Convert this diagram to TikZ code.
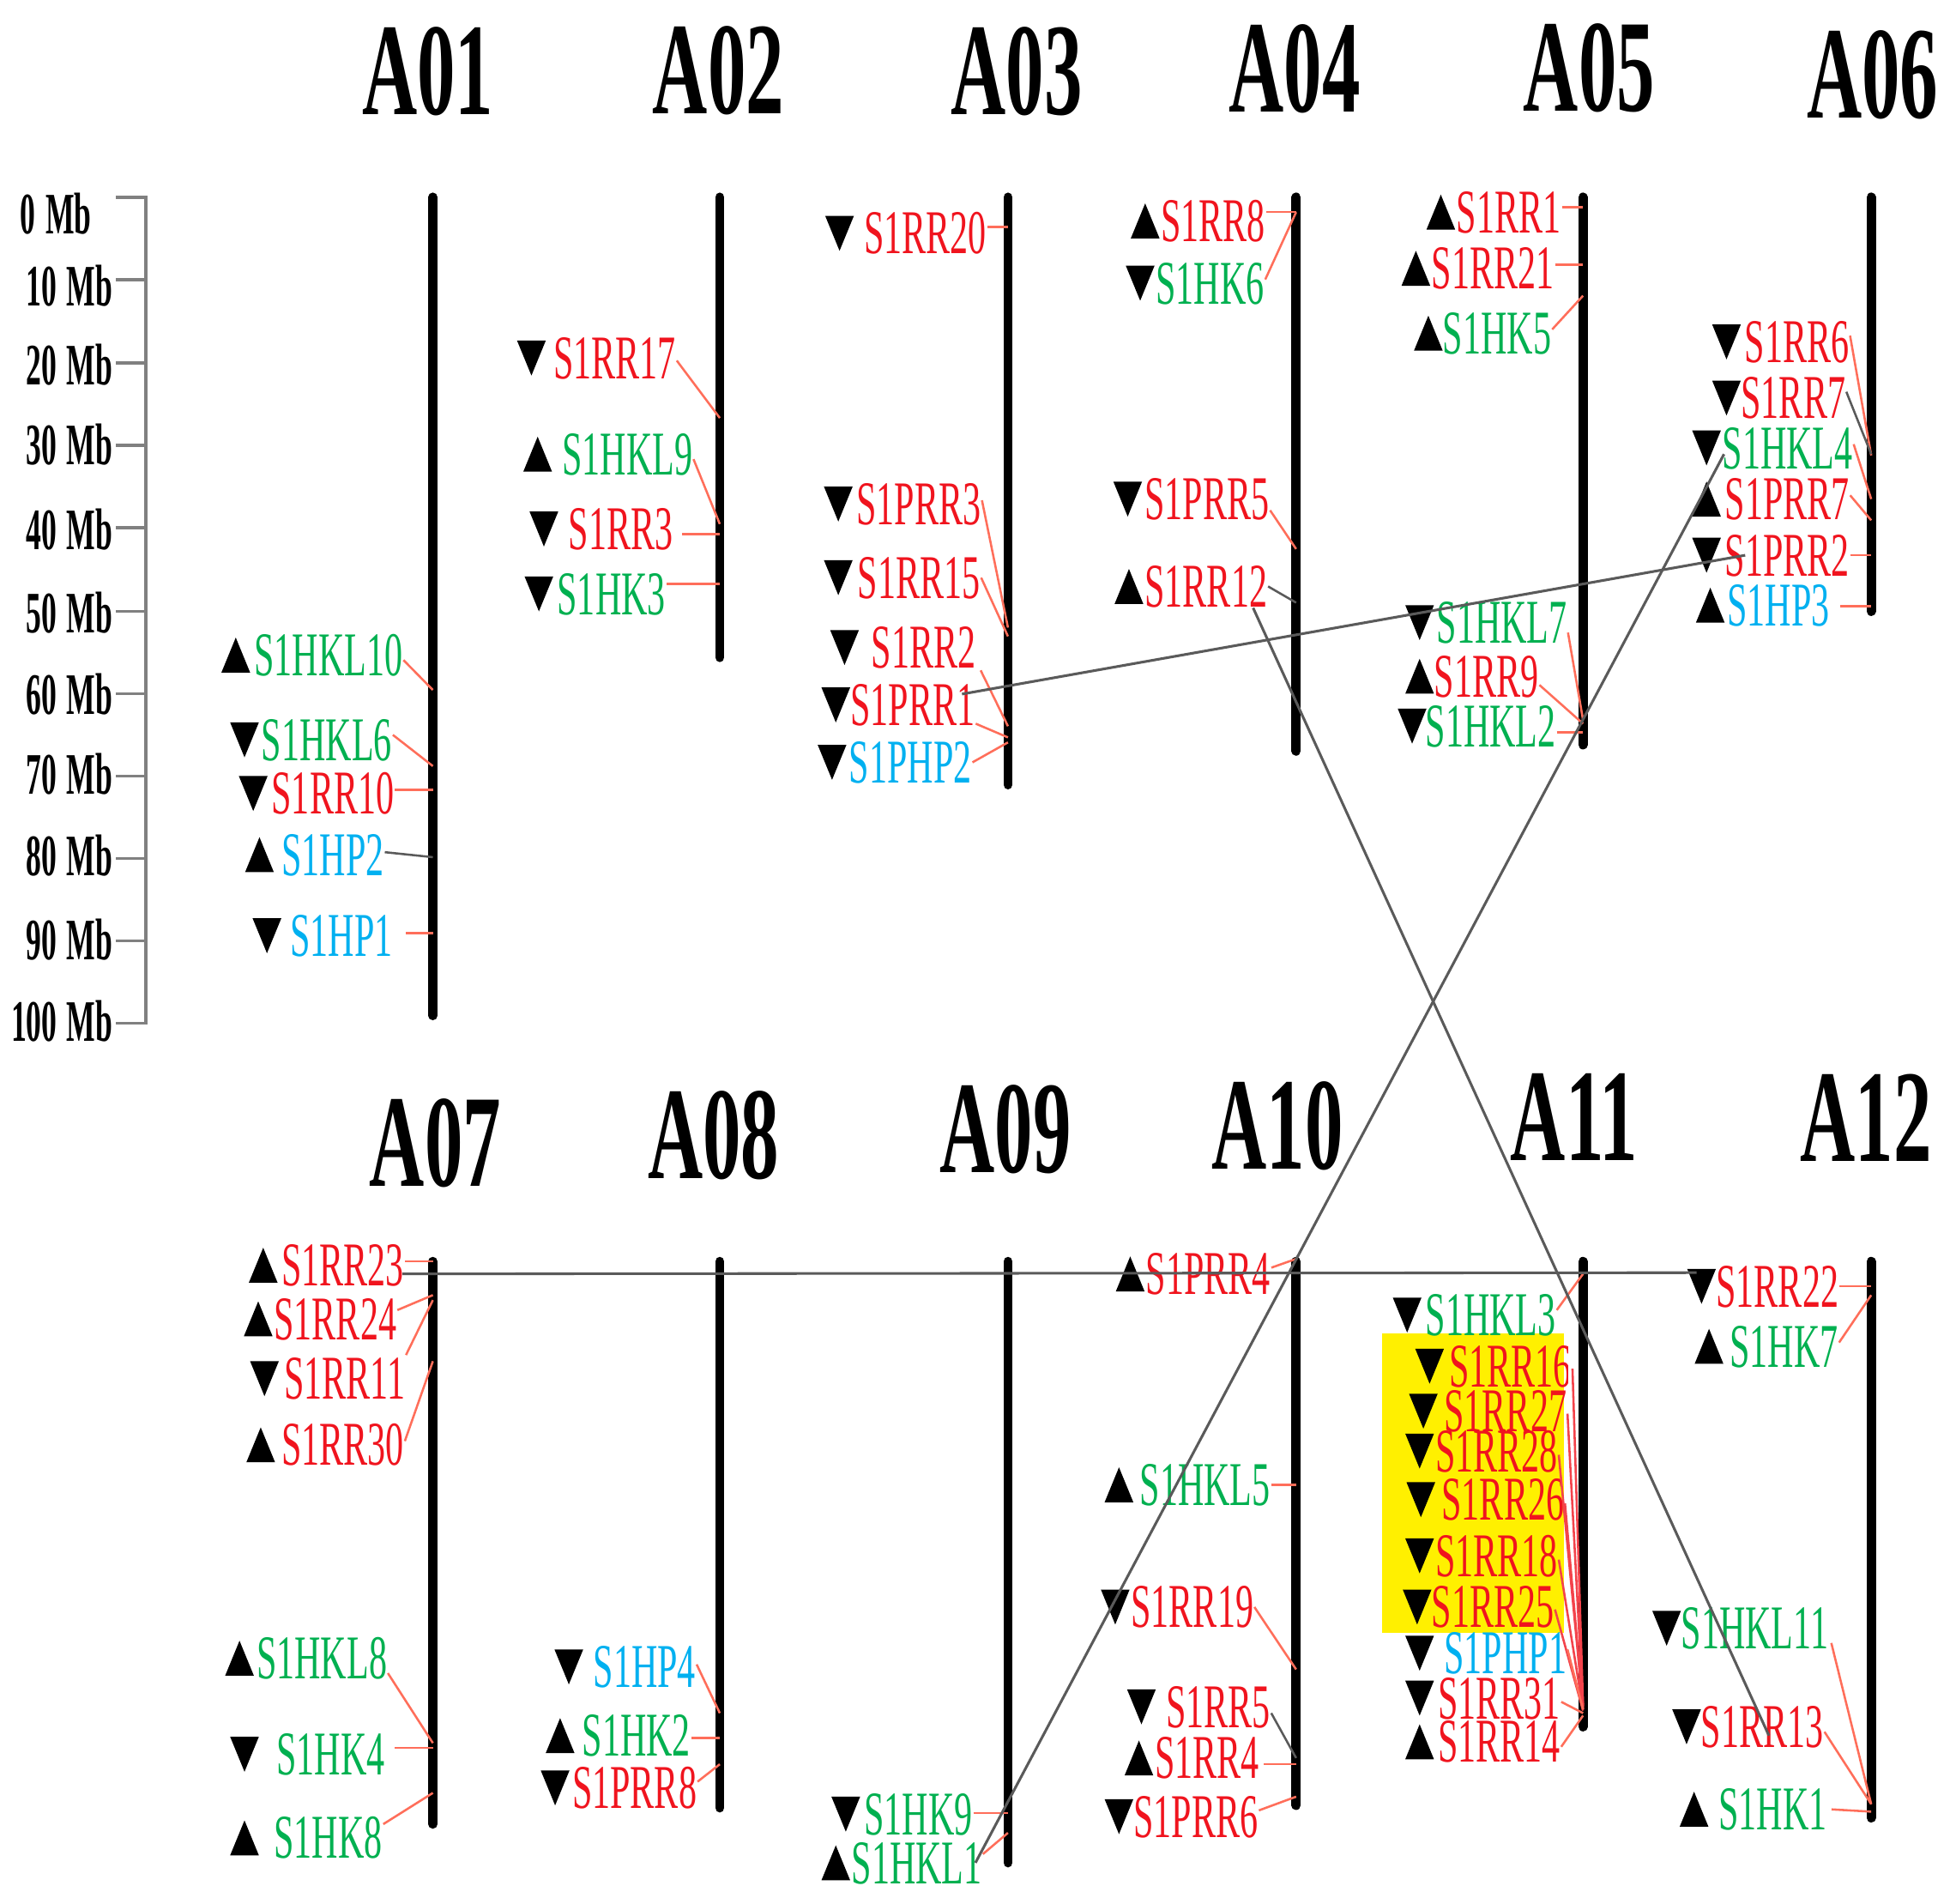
\documentclass[tikz,border=0pt]{standalone}
\usepackage{fontspec}
\setmainfont{Liberation Serif}
\newfontfamily\gf[FakeStretch=0.58]{Liberation Serif}
\newfontfamily\mbfont[FakeStretch=0.52]{Liberation Serif}
\definecolor{cr}{RGB}{240,20,30}
\definecolor{cg}{RGB}{0,176,80}
\definecolor{cb}{RGB}{0,176,240}
\definecolor{cs}{RGB}{255,110,90}
\definecolor{cgr}{RGB}{90,90,90}
\definecolor{yel}{RGB}{255,240,0}
\newcommand\tu[2]{\fill (#1,#2) +(-0.115,0.14) -- +(0.115,0.14) -- +(0,-0.14) -- cycle;}
\newcommand\td[2]{\fill (#1,#2) +(-0.115,-0.14) -- +(0.115,-0.14) -- +(0,0.14) -- cycle;}
\newcommand\gu[6]{\node[lbl,text=#5] (#1) at (#3,#4) {#6};\tu{#2}{#4}}
\newcommand\gd[6]{\node[lbl,text=#5] (#1) at (#3,#4) {#6};\td{#2}{#4}}
\newcommand\cn[5][cn]{\draw[#1] (#2.east |- 0,#3) -- (#4 |- 0,#5);}
\begin{document}
\begin{tikzpicture}[x=1cm,y=-1cm,
 lbl/.style={anchor=west,inner sep=0pt,font=\gf\fontsize{14.2}{15}\selectfont,text height=9.4pt,text depth=0pt},
 ttl/.style={inner sep=0pt,font=\gf\bfseries\fontsize{30}{32}\selectfont,text height=19.8pt,text depth=0pt},
 sc/.style={anchor=east,inner sep=0pt,font=\mbfont\bfseries\fontsize{13.4}{14}\selectfont,text height=8.8pt,text depth=0pt},
 chrom/.style={line width=2.1pt,line cap=round},
 cn/.style={draw=cs,line width=0.5pt},
 cng/.style={draw=cgr,line width=0.5pt},
 syn/.style={draw=cgr,line width=0.6pt},
 scl/.style={draw=gray,line width=0.7pt}]
\useasboundingbox (0,0) rectangle (15.68,15.26);

% scale
\draw[scl] (0.93,1.58) -- (1.17,1.58) -- (1.17,8.20) -- (0.93,8.20);
\foreach \y in {2.24,2.91,3.57,4.23,4.90,5.56,6.22,6.88,7.54} {\draw[scl] (0.93,\y) -- (1.17,\y);}
\node[sc] (sc0) at (0.74,1.72) {0\,Mb};
\foreach \v/\y in {10/2.30,20/2.93,30/3.57,40/4.25,50/4.92,60/5.57,70/6.21,80/6.86,90/7.54,100/8.19}
  {\node[sc] (sc\v) at (0.91,\y) {\v\,Mb};}

% titles
\node[ttl] (tA01) at (3.43,0.57) {A01};
\node[ttl] (tA02) at (5.76,0.56) {A02};
\node[ttl] (tA03) at (8.15,0.57) {A03};
\node[ttl] (tA04) at (10.38,0.55) {A04};
\node[ttl] (tA05) at (12.74,0.54) {A05};
\node[ttl] (tA06) at (15.01,0.60) {A06};
\node[ttl] (tA07) at (3.49,9.16) {A07};
\node[ttl] (tA08) at (5.72,9.10) {A08};
\node[ttl] (tA09) at (8.06,9.05) {A09};
\node[ttl] (tA10) at (10.24,9.02) {A10};
\node[ttl] (tA11) at (12.62,8.95) {A11};
\node[ttl] (tA12) at (14.96,8.96) {A12};

% yellow box
\fill[yel] (11.08,10.69) rectangle (12.54,13.09);

% chromosomes
\foreach \n/\x/\b in {A01/3.47/8.14, A02/5.77/5.27, A03/8.08/6.29, A04/10.39/6.02, A05/12.69/5.97, A06/15.00/4.90}
  {\coordinate (\n) at (\x,0); \draw[chrom] (\x,1.58) -- (\x,\b);}
\foreach \n/\x/\b in {A07/3.47/14.62, A08/5.77/14.49, A09/8.08/14.93, A10/10.39/14.47, A11/12.69/13.84, A12/15.00/14.57}
  {\coordinate (\n) at (\x,0); \draw[chrom] (\x,10.11) -- (\x,\b);}

% A01
\gu{S1HKL10}{1.89}{2.03}{5.25}{cg}{S1HKL10}
\gd{S1HKL6}{1.96}{2.09}{5.93}{cg}{S1HKL6}
\gd{S1RR10}{2.03}{2.17}{6.36}{cr}{S1RR10}
\gu{S1HP2}{2.08}{2.25}{6.85}{cb}{S1HP2}
\gd{S1HP1}{2.14}{2.32}{7.50}{cb}{S1HP1}
\cn{S1HKL10}{5.29}{A01}{5.53}
\cn{S1HKL6}{5.89}{A01}{6.14}
\cn{S1RR10}{6.33}{A01}{6.33}
\cn[cng]{S1HP2}{6.83}{A01}{6.87}
\cn[cn,shorten <=0.1cm]{S1HP1}{7.48}{A01}{7.48}

% A02
\gd{S1RR17}{4.26}{4.43}{2.87}{cr}{S1RR17}
\gu{S1HKL9}{4.31}{4.50}{3.64}{cg}{S1HKL9}
\gd{S1RR3}{4.36}{4.55}{4.24}{cr}{S1RR3}
\gd{S1HK3}{4.32}{4.46}{4.76}{cg}{S1HK3}
\cn{S1RR17}{2.89}{A02}{3.35}
\cn{S1HKL9}{3.68}{A02}{4.20}
\cn[cn,shorten <=0.07cm]{S1RR3}{4.28}{A02}{4.28}
\cn{S1HK3}{4.68}{A02}{4.68}

% A03
\gd{S1RR20}{6.73}{6.92}{1.87}{cr}{S1RR20}
\gd{S1PRR3}{6.72}{6.86}{4.04}{cr}{S1PRR3}
\gd{S1RR15}{6.72}{6.87}{4.63}{cr}{S1RR15}
\gd{S1RR2}{6.77}{6.98}{5.19}{cr}{S1RR2}
\gd{S1PRR1}{6.70}{6.81}{5.65}{cr}{S1PRR1}
\gd{S1PHP2}{6.67}{6.80}{6.11}{cb}{S1PHP2}
\cn{S1RR20}{1.82}{A03}{1.82}
\cn{S1PRR3}{4.01}{A03}{5.03}
\cn{S1RR15}{4.63}{A03}{5.10}
\cn[cn,shorten <=0.07cm]{S1RR2}{5.31}{A03}{5.82}
\cn{S1PRR1}{5.80}{A03}{5.91}
\cn{S1PHP2}{6.11}{A03}{5.95}

% A04
\gu{S1RR8}{9.18}{9.30}{1.77}{cr}{S1RR8}
\gd{S1HK6}{9.14}{9.26}{2.27}{cg}{S1HK6}
\gd{S1PRR5}{9.04}{9.17}{4.00}{cr}{S1PRR5}
\gu{S1RR12}{9.05}{9.17}{4.70}{cr}{S1RR12}
\cn{S1RR8}{1.70}{A04}{1.70}
\cn{S1HK6}{2.24}{A04}{1.70}
\cn{S1PRR5}{4.09}{A04}{4.40}
\cn[cng]{S1RR12}{4.70}{A04}{4.83}

% A05
\gu{S1RR1}{11.55}{11.67}{1.70}{cr}{S1RR1}
\gu{S1RR21}{11.35}{11.47}{2.15}{cr}{S1RR21}
\gu{S1HK5}{11.45}{11.56}{2.67}{cg}{S1HK5}
\gd{S1HKL7}{11.38}{11.51}{4.99}{cg}{S1HKL7}
\gu{S1RR9}{11.38}{11.49}{5.42}{cr}{S1RR9}
\gd{S1HKL2}{11.32}{11.42}{5.82}{cg}{S1HKL2}
\cn{S1RR1}{1.66}{A05}{1.66}
\cn{S1RR21}{2.12}{A05}{2.12}
\cn{S1HK5}{2.64}{A05}{2.37}
\cn{S1HKL7}{5.07}{A05}{5.77}
\cn{S1RR9}{5.49}{A05}{5.80}
\cn{S1HKL2}{5.87}{A05}{5.87}

% A06
\gd{S1RR6}{13.84}{13.98}{2.74}{cr}{S1RR6}
\gd{S1RR7}{13.84}{13.95}{3.19}{cr}{S1RR7}
\gd{S1HKL4}{13.68}{13.80}{3.59}{cg}{S1HKL4}
\gu{S1PRR7}{13.68}{13.82}{4.00}{cr}{S1PRR7}
\gd{S1PRR2}{13.68}{13.82}{4.45}{cr}{S1PRR2}
\gu{S1HP3}{13.71}{13.84}{4.85}{cb}{S1HP3}
\cn{S1RR6}{2.69}{A06}{3.65}
\cn[cng]{S1RR7}{3.14}{A06}{3.64}
\cn{S1HKL4}{3.56}{A06}{4.00}
\cn{S1PRR7}{3.97}{A06}{4.17}
\cn{S1PRR2}{4.45}{A06}{4.45}
\cn[cn,shorten <=0.08cm]{S1HP3}{4.86}{A06}{4.86}

% A07
\gu{S1RR23}{2.11}{2.25}{10.14}{cr}{S1RR23}
\gu{S1RR24}{2.07}{2.19}{10.57}{cr}{S1RR24}
\gd{S1RR11}{2.12}{2.27}{11.05}{cr}{S1RR11}
\gu{S1RR30}{2.09}{2.25}{11.58}{cr}{S1RR30}
\gu{S1HKL8}{1.92}{2.05}{13.29}{cg}{S1HKL8}
\gd{S1HK4}{1.96}{2.21}{14.06}{cg}{S1HK4}
\gu{S1HK8}{1.96}{2.19}{14.73}{cg}{S1HK8}
\cn{S1RR23}{10.11}{A07}{10.11}
\cn{S1RR24}{10.50}{A07}{10.38}
\cn{S1RR11}{10.86}{A07}{10.42}
\cn{S1RR30}{11.55}{A07}{10.91}
\cn{S1HKL8}{13.41}{A07}{13.97}
\cn[cn,shorten <=0.07cm]{S1HK4}{14.01}{A07}{14.01}
\cn{S1HK8}{14.62}{A07}{14.37}

% A08
\gd{S1HP4}{4.56}{4.75}{13.36}{cb}{S1HP4}
\gu{S1HK2}{4.49}{4.66}{13.91}{cg}{S1HK2}
\gd{S1PRR8}{4.45}{4.58}{14.33}{cr}{S1PRR8}
\cn{S1HP4}{13.34}{A08}{13.73}
\cn{S1HK2}{13.93}{A08}{13.93}
\cn{S1PRR8}{14.28}{A08}{14.14}

% A09
\gd{S1HK9}{6.78}{6.92}{14.54}{cg}{S1HK9}
\gu{S1HKL1}{6.70}{6.82}{14.93}{cg}{S1HKL1}
\cn{S1HK9}{14.53}{A09}{14.53}
\cn{S1HKL1}{14.86}{A09}{14.69}

% A10
\gu{S1PRR4}{9.06}{9.18}{10.21}{cr}{S1PRR4}
\gu{S1HKL5}{8.97}{9.13}{11.90}{cg}{S1HKL5}
\gd{S1RR19}{8.94}{9.06}{12.88}{cr}{S1RR19}
\gd{S1RR5}{9.15}{9.34}{13.68}{cr}{S1RR5}
\gu{S1RR4}{9.13}{9.25}{14.09}{cr}{S1RR4}
\gd{S1PRR6}{8.97}{9.08}{14.56}{cr}{S1PRR6}
\cn{S1PRR4}{10.16}{A10}{10.09}
\cn{S1HKL5}{11.90}{A10}{11.90}
\cn{S1RR19}{12.88}{A10}{13.38}
\cn[cng]{S1RR5}{13.73}{A10}{14.09}
\cn[cn,shorten <=0.03cm]{S1RR4}{14.14}{A10}{14.14}
\cn{S1PRR6}{14.51}{A10}{14.40}

% A11
\gd{S1HKL3}{11.28}{11.42}{10.54}{cg}{S1HKL3}
\begin{scope}
\clip (11.08,10.69) rectangle (12.57,13.09);
\gd{S1RR16}{11.46}{11.61}{10.95}{cr}{S1RR16}
\gd{S1RR27}{11.41}{11.57}{11.31}{cr}{S1RR27}
\gd{S1RR28}{11.38}{11.50}{11.63}{cr}{S1RR28}
\gd{S1RR26}{11.39}{11.55}{12.02}{cr}{S1RR26}
\gd{S1RR18}{11.38}{11.50}{12.47}{cr}{S1RR18}
\gd{S1RR25}{11.36}{11.47}{12.88}{cr}{S1RR25}
\end{scope}
\gd{S1PHP1}{11.38}{11.57}{13.25}{cb}{S1PHP1}
\gd{S1RR31}{11.38}{11.52}{13.61}{cr}{S1RR31}
\gu{S1RR14}{11.38}{11.52}{13.96}{cr}{S1RR14}
\cn{S1HKL3}{10.50}{A11}{10.21}
\cn[cn,draw=cr!80]{S1RR16}{10.97}{A11}{13.66}
\cn[cn,draw=cr!80]{S1RR27}{11.33}{A11}{13.67}
\cn[cn,draw=cr!80]{S1RR28}{11.66}{A11}{13.68}
\cn[cn,draw=cr!80]{S1RR26}{12.05}{A11}{13.69}
\cn[cn,draw=cr!80]{S1RR18}{12.50}{A11}{13.70}
\cn[cn,draw=cr!80]{S1RR25}{12.90}{A11}{13.71}
\cn{S1PHP1}{13.22}{A11}{13.70}
\cn{S1RR31}{13.64}{A11}{13.73}
\cn{S1RR14}{14.00}{A11}{13.75}

% A12
\gd{S1RR22}{13.64}{13.75}{10.31}{cr}{S1RR22}
\gu{S1HK7}{13.70}{13.86}{10.79}{cg}{S1HK7}
\gd{S1HKL11}{13.36}{13.47}{13.05}{cg}{S1HKL11}
\gd{S1RR13}{13.52}{13.63}{13.84}{cr}{S1RR13}
\gu{S1HK1}{13.58}{13.77}{14.50}{cg}{S1HK1}
\cn{S1RR22}{10.31}{A12}{10.31}
\cn{S1HK7}{10.76}{A12}{10.38}
\cn[cn,shorten <=0.07cm]{S1HKL11}{13.10}{A12}{14.46}
\cn{S1RR13}{13.88}{A12}{14.46}
\cn[cn,shorten <=0.03cm]{S1HK1}{14.50}{A12}{14.52}

% synteny links
\draw[syn] ([shift={(-0.11,0.085)}]S1PRR1.north east) -- ([xshift=0.17cm]S1PRR2.west);
\draw[syn] ([xshift=-0.12cm]S1RR12.south east) -- ([shift={(0.55,0.07)}]S1RR13.west);
\draw[syn] ([shift={(0.02,0.05)}]S1HKL4.west) -- ([xshift=-0.06cm]S1HKL1.east);
\draw[syn] ([shift={(-0.02,0.07)}]S1RR23.east) -- ([shift={(-0.15,-0.11)}]S1RR22.west);
\end{tikzpicture}
\end{document}
